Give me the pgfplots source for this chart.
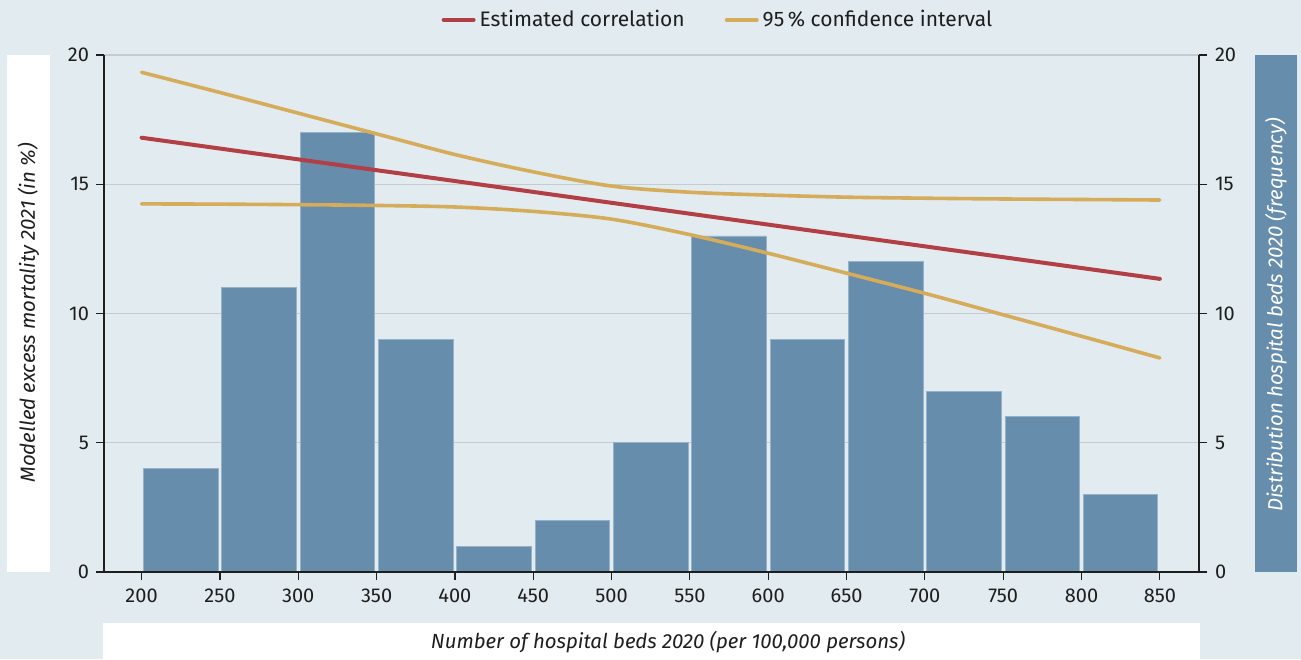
\documentclass[border=0pt]{standalone}
\usepackage{fontspec}
\setmainfont{Fira Sans}
\usepackage{pgfplots}
\pgfplotsset{compat=1.18}

\definecolor{bg}{RGB}{226,235,239}
\definecolor{barblue}{RGB}{103,141,173}
\definecolor{baredge}{RGB}{150,178,200}
\definecolor{estred}{RGB}{178,62,70}
\definecolor{cigold}{RGB}{212,172,90}
\definecolor{gridgray}{RGB}{196,204,208}
\definecolor{txt}{RGB}{30,30,30}

\pgfplotsset{
  common/.style={
    at={(52pt,43.5pt)}, anchor=south west,
    scale only axis, width=547.5pt, height=258.5pt,
    xmin=176, xmax=875, ymin=0, ymax=20,
    ytick={0,5,10,15,20},
    tick align=outside, major tick length=4pt,
    tick style={txt, line width=0.6pt},
    axis line style={txt, line width=0.6pt, -},
    /pgf/number format/assume math mode=true,
    tick label style={font=\fontsize{10}{12}\selectfont, text=txt},
  }
}

\begin{document}
\begin{tikzpicture}
\fill[bg] (0,0) rectangle (650.5pt,329.5pt);
\fill[white] (3.5pt,43.5pt) rectangle (25pt,302pt);
\fill[barblue] (627.5pt,43.5pt) rectangle (648.5pt,302pt);
\fill[white] (51.5pt,0pt) rectangle (600pt,18pt);
\node[rotate=90, font=\fontsize{10.2}{12}\itshape, text=txt] at (14.25pt,173pt) {Modelled excess mortality 2021 (in \%)};
\node[rotate=90, font=\fontsize{10.2}{12}\itshape, text=white] at (638pt,172pt) {Distribution hospital beds 2020 (frequency)};
\node[font=\fontsize{10.2}{12}\itshape, text=txt] at (334pt,8.5pt) {Number of hospital beds 2020 (per 100,000 persons)};

% frequency histogram, right axis
\begin{axis}[common,
  axis x line=none, axis y line*=right,
  ymajorgrids, grid style={gridgray, line width=0.6pt},
  yticklabel style={xshift=0.5pt},
]
\addplot[ybar, bar width=47.5, bar shift=0pt, fill=barblue, draw=baredge, line width=0.4pt]
  coordinates {(225,4) (275,11) (325,17) (375,9) (425,1) (475,2) (525,5)
               (575,13) (625,9) (675,12) (725,7) (775,6) (825,3)};
\end{axis}

% estimated correlation, left axis
\begin{axis}[common,
  axis x line*=bottom, axis y line*=left,
  xtick={200,250,...,850},
  xticklabel style={yshift=-1pt},
  legend style={at={(0.5616,1.068)}, anchor=center, draw=none, fill=none,
    font=\fontsize{10.5}{12}\selectfont, text=txt,
    /tikz/every even column/.append style={column sep=18pt}},
  legend columns=2,
  legend image code/.code={\draw[#1, line width=2pt, line cap=round] (0pt,0pt) -- (15pt,0pt);},
]
\addplot[estred, line width=2pt, line cap=round]
  coordinates {(200,16.80) (397,15.15) (652,13.00) (850,11.34)};
\addlegendentry{Estimated correlation}
\addplot[cigold, line width=1.8pt, line cap=round, smooth]
  coordinates {(200,19.33) (250,18.55) (300,17.75) (350,16.95) (400,16.15)
               (450,15.48) (500,14.93) (550,14.69) (600,14.58) (650,14.50)
               (700,14.46) (750,14.43) (800,14.41) (850,14.39)};
\addlegendentry{95\,\% confidence interval}
\addplot[cigold, line width=1.8pt, line cap=round, smooth, forget plot]
  coordinates {(200,14.24) (250,14.23) (300,14.21) (350,14.18) (400,14.12)
               (450,13.95) (500,13.65) (550,13.05) (600,12.33) (650,11.56)
               (700,10.78) (750,9.95) (800,9.12) (850,8.28)};
\end{axis}

\pgfresetboundingbox
\path[use as bounding box] (0,0) rectangle (650.5pt,329.5pt);
\end{tikzpicture}
\end{document}
